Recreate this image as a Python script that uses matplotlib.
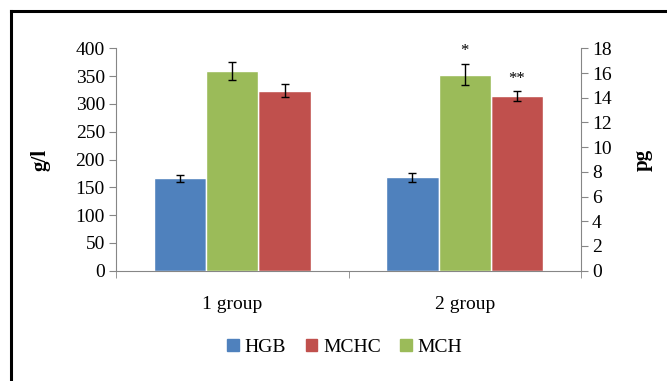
import numpy as np
import matplotlib
matplotlib.use('Agg')
import matplotlib.pyplot as plt
from matplotlib.lines import Line2D

plt.rcParams['font.family'] = ['Liberation Serif', 'DejaVu Serif']

groups = ['1 group', '2 group']
hgb = [166, 168]
hgb_err = [6, 8]
mchc = [324, 314]
mchc_err = [12, 9]
mch = [16.15, 15.85]
mch_err = [0.75, 0.85]
marks_mch = ['', '*']
marks_mchc = ['', '**']

c_hgb = '#4F81BD'
c_mchc = '#C0504D'
c_mch = '#9BBB59'
grey = '#868686'

fig = plt.figure(figsize=(6.67, 3.81), dpi=100)
ax = fig.add_axes([0.174, 0.2895, 0.697, 0.5837])
ax2 = ax.twinx()

x = np.arange(len(groups))
w = 0.225
ekw = dict(ecolor='black', elinewidth=1, capsize=3, capthick=1)
ax.bar(x - w, hgb, w, yerr=hgb_err, color=c_hgb, edgecolor='white', lw=1, error_kw=ekw, label='HGB')
ax.bar(x + w, mchc, w, yerr=mchc_err, color=c_mchc, edgecolor='white', lw=1, error_kw=ekw, label='MCHC')
ax2.bar(x, mch, w, yerr=mch_err, color=c_mch, edgecolor='white', lw=1, error_kw=ekw, label='MCH')

for i in range(len(groups)):
    ax2.text(x[i], mch[i] + mch_err[i] + 1.1, marks_mch[i], ha='center', va='center', fontsize=12)
    ax.text(x[i] + w, mchc[i] + mchc_err[i] + 22, marks_mchc[i], ha='center', va='center', fontsize=12)

ax.set_xlim(-0.5, 1.5)
ax.set_ylim(0, 400)
ax2.set_ylim(0, 18)
ax.set_yticks(np.arange(0, 401, 50))
ax2.set_yticks(np.arange(0, 19, 2))
ax.set_xticks(x)
ax.set_xticklabels(groups)
ax.set_xticks([-0.5, 0.5, 1.5], minor=True)
ax.tick_params(axis='x', which='major', length=0, pad=18, labelsize=14)
ax.tick_params(axis='x', which='minor', length=5, color=grey, direction='out')
ax.tick_params(axis='y', length=5, color=grey, labelsize=14, pad=3)
ax2.tick_params(axis='y', length=5, color=grey, labelsize=14, pad=3)

for a in (ax, ax2):
    a.spines['top'].set_visible(False)
    for s in ('left', 'right', 'bottom'):
        a.spines[s].set_color(grey)
ax.spines['right'].set_visible(False)
ax2.spines['left'].set_visible(False)
ax2.spines['bottom'].set_visible(False)

fig.text(0.06, 0.58, 'g/l', rotation=90, ha='center', va='center', fontsize=15, fontweight='bold')
fig.text(0.964, 0.58, 'pg', rotation=90, ha='center', va='center', fontsize=15, fontweight='bold')

handles = [plt.Rectangle((0, 0), 1, 1, color=c) for c in (c_hgb, c_mchc, c_mch)]
fig.legend(handles, ['HGB', 'MCHC', 'MCH'], loc='center', bbox_to_anchor=(0.517, 0.089),
           ncol=3, frameon=False, fontsize=14, handlelength=0.6, handleheight=0.6,
           handletextpad=0.3, columnspacing=1.0)

# outer frame (left and top edges only)
fig.add_artist(Line2D([11/667, 11/667], [0, 1 - 11/381], color='black', lw=2.2))
fig.add_artist(Line2D([11/667, 1], [1 - 11/381, 1 - 11/381], color='black', lw=2.2))

fig.savefig('out.png', dpi=100)
